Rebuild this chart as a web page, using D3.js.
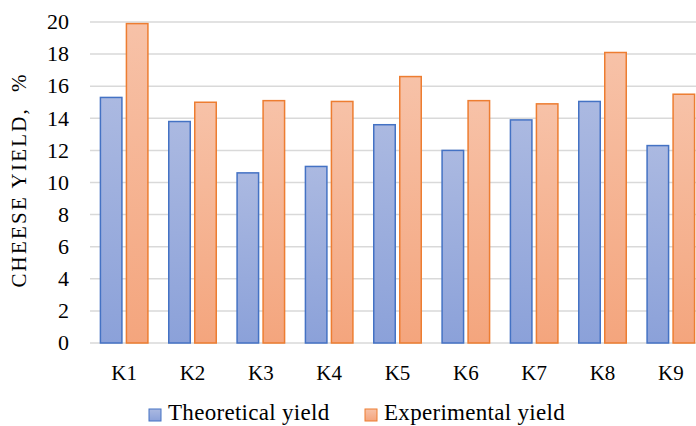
<!DOCTYPE html>
<html>
<head>
<meta charset="utf-8">
<script src="https://cdn.jsdelivr.net/npm/d3@7"></script>
<style>
  html, body { margin: 0; padding: 0; background: #fff; overflow: hidden; }
  svg { display: block; }
</style>
</head>
<body>
<svg id="chart"></svg>
<script>
// chart data
const categories = ['K1', 'K2', 'K3', 'K4', 'K5', 'K6', 'K7', 'K8', 'K9'];
const theoretical = [15.3, 13.8, 10.6, 11.0, 13.6, 12.0, 13.9, 15.05, 12.3];
const experimental = [19.9, 15.0, 15.1, 15.05, 16.6, 15.1, 14.9, 18.1, 15.5];
const yTicks = [0, 2, 4, 6, 8, 10, 12, 14, 16, 18, 20];
const seriesNames = ['Theoretical yield', 'Experimental yield'];

const FONT = '"Liberation Serif", "Times New Roman", serif';
const width = 696, height = 426;
const margin = { top: 22, right: -9, bottom: 83, left: 90 };
const innerWidth = width - margin.left - margin.right;
const innerHeight = height - margin.top - margin.bottom;

const svg = d3.select('#chart')
  .attr('width', width)
  .attr('height', height)
  .attr('font-family', FONT);

const defs = svg.append('defs');
const grads = [
  { id: 'gBlue', top: '#abb9e1', bottom: '#8ba1d9' },
  { id: 'gOrange', top: '#f7c2a8', bottom: '#f4a57d' }
];
grads.forEach(gd => {
  const lg = defs.append('linearGradient').attr('id', gd.id)
    .attr('x1', 0).attr('y1', 0).attr('x2', 0).attr('y2', 1);
  lg.append('stop').attr('offset', '0%').attr('stop-color', gd.top);
  lg.append('stop').attr('offset', '100%').attr('stop-color', gd.bottom);
});

const x = d3.scaleBand().domain(categories).range([0, innerWidth]);
const y = d3.scaleLinear().domain([0, 20]).range([innerHeight, 0]);

const g = svg.append('g').attr('transform', `translate(${margin.left},${margin.top})`);

// gridlines
g.selectAll('line.grid')
  .data(yTicks)
  .join('line')
  .attr('class', 'grid')
  .attr('x1', 0).attr('x2', innerWidth)
  .attr('y1', d => y(d)).attr('y2', d => y(d))
  .attr('stroke', '#d9d9d9')
  .attr('stroke-width', 1.5);

// y tick labels
g.selectAll('text.ytick')
  .data(yTicks)
  .join('text')
  .attr('class', 'ytick')
  .attr('x', -21)
  .attr('y', d => y(d))
  .attr('dy', '0.33em')
  .attr('text-anchor', 'end')
  .attr('font-size', '22px')
  .attr('fill', '#000')
  .text(d => d);

// bars
const barW = 21.5, gap = 4.5;
const series = [
  { values: theoretical, fill: 'url(#gBlue)', stroke: '#4472c4', offset: -(gap / 2 + barW) },
  { values: experimental, fill: 'url(#gOrange)', stroke: '#ed7d31', offset: gap / 2 }
];
series.forEach(s => {
  g.selectAll(null)
    .data(categories)
    .join('rect')
    .attr('x', d => x(d) + x.bandwidth() / 2 + s.offset)
    .attr('y', (d, i) => y(s.values[i]))
    .attr('width', barW)
    .attr('height', (d, i) => innerHeight - y(s.values[i]))
    .attr('fill', s.fill)
    .attr('stroke', s.stroke)
    .attr('stroke-width', 1.5);
});

// category labels
g.selectAll('text.xtick')
  .data(categories)
  .join('text')
  .attr('class', 'xtick')
  .attr('x', d => x(d) + x.bandwidth() / 2)
  .attr('y', innerHeight + 37)
  .attr('text-anchor', 'middle')
  .attr('font-size', '21px')
  .attr('fill', '#000')
  .text(d => d);

// y-axis title
svg.append('text')
  .attr('transform', `translate(26, 180) rotate(-90)`)
  .attr('text-anchor', 'middle')
  .attr('font-size', '21px')
  .attr('fill', '#000')
  .attr('letter-spacing', '2.2px')
  .attr('xml:space', 'preserve')
  .text('CHEESE YIELD,  %');

// legend
const legend = svg.append('g').attr('transform', 'translate(149, 409)');
const legendX = [0, 216];
seriesNames.forEach((name, i) => {
  const item = legend.append('g').attr('transform', `translate(${legendX[i]}, 0)`);
  item.append('rect')
    .attr('width', 12).attr('height', 12)
    .attr('fill', series[i].fill)
    .attr('stroke', series[i].stroke)
    .attr('stroke-width', 1);
  item.append('text')
    .attr('x', 19).attr('y', 11)
    .attr('font-size', '23px')
    .attr('fill', '#000')
    .attr('letter-spacing', '0.3px')
    .text(name);
});
</script>
</body>
</html>
